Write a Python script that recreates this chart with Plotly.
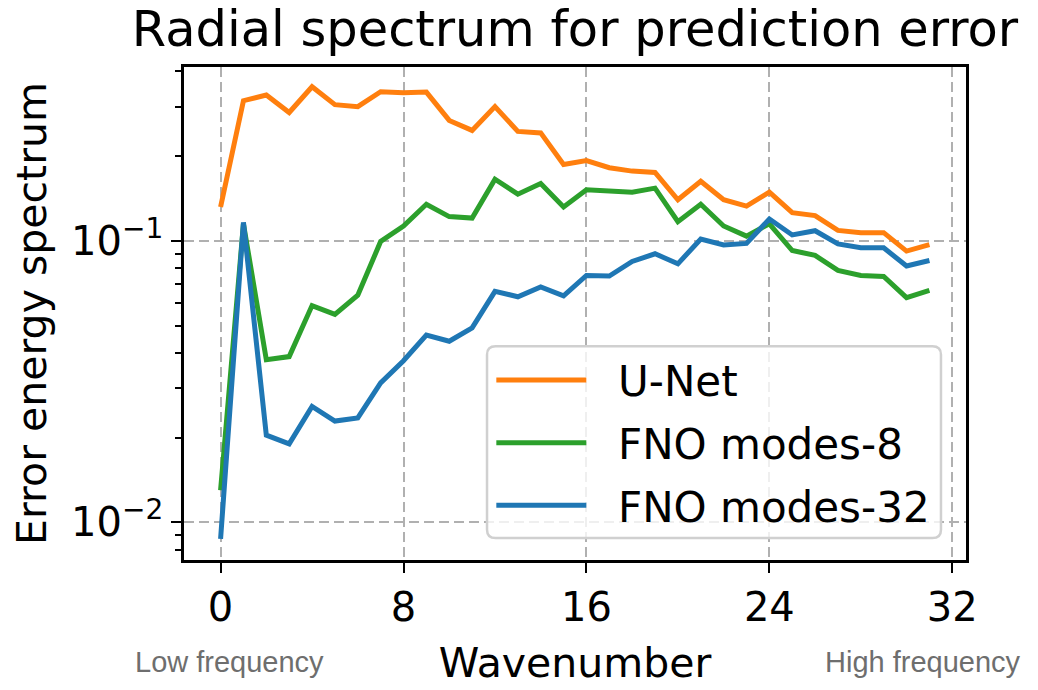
import plotly.graph_objects as go

# Data
wavenumber = list(range(32))

unet = [0.132, 0.315, 0.330, 0.286, 0.353, 0.305, 0.300, 0.339, 0.336, 0.338,
        0.268, 0.247, 0.300, 0.245, 0.242, 0.187, 0.193, 0.182, 0.177, 0.175,
        0.140, 0.163, 0.140, 0.133, 0.149, 0.126, 0.123, 0.109, 0.107, 0.107,
        0.092, 0.097]

fno_modes8 = [0.0130, 0.115, 0.0378, 0.0388, 0.0589, 0.0548, 0.0641, 0.0995, 0.113, 0.135,
              0.122, 0.1205, 0.1656, 0.1466, 0.160, 0.132, 0.152, 0.151, 0.149, 0.154,
              0.117, 0.135, 0.113, 0.104, 0.115, 0.0924, 0.0888, 0.0786, 0.0754, 0.0748,
              0.0629, 0.0667]

fno_modes32 = [0.00873, 0.1164, 0.0204, 0.0190, 0.0258, 0.0229, 0.0235, 0.0313, 0.0375, 0.0463,
               0.0440, 0.0491, 0.0662, 0.0633, 0.0686, 0.0638, 0.0754, 0.0750, 0.0845, 0.0900,
               0.0829, 0.1016, 0.0968, 0.0980, 0.1196, 0.1050, 0.1087, 0.0976, 0.0945, 0.0945,
               0.0814, 0.0852]

x_ticks = [0, 8, 16, 24, 32]
y_ticks = [0.01, 0.1]
y_ticktext = ["10<sup>−2</sup>", "10<sup>−1</sup>"]
y_minor = [0.008, 0.009] + [k / 100 for k in range(2, 10)] + [0.2, 0.3, 0.4]

series = [
    ("U-Net", unet, "#ff7f0e"),
    ("FNO modes-8", fno_modes8, "#2ca02c"),
    ("FNO modes-32", fno_modes32, "#1f77b4"),
]

fig = go.Figure()
for name, vals, color in series:
    fig.add_trace(go.Scatter(
        x=wavenumber, y=vals, mode="lines",
        name="\u00a0\u00a0" + name,  # extra gap between legend line and label
        legendgroup=name,
        line=dict(color=color, width=5),
    ))

# page has an 8px body margin, so the figure is a bit smaller than the window
fig.update_layout(
    width=1030, height=682,
    margin=dict(l=176, r=72, t=59, b=127),
    paper_bgcolor="white", plot_bgcolor="white",
    font=dict(family="DejaVu Sans", size=40, color="black"),
    title=dict(text="Radial spectrum for prediction error", x=0.5505, xanchor="center",
               y=0.97, yanchor="middle", font=dict(size=49.5)),
    legend=dict(
        x=0.393, y=0.4335, xanchor="left", yanchor="top",
        bgcolor="rgba(0,0,0,0)", borderwidth=0,
        font=dict(size=42), tracegroupgap=5, itemwidth=90,
    ),
    showlegend=True,
)

# legend frame with rounded corners, like matplotlib's
x0, x1, y0, y1 = 0.3875, 0.968, 0.0444, 0.4335
rx, ry = 0.011, 0.017
frame = (f"M{x0+rx},{y1} L{x1-rx},{y1} Q{x1},{y1} {x1},{y1-ry} "
         f"L{x1},{y0+ry} Q{x1},{y0} {x1-rx},{y0} L{x0+rx},{y0} "
         f"Q{x0},{y0} {x0},{y0+ry} L{x0},{y1-ry} Q{x0},{y1} {x0+rx},{y1} Z")
fig.add_shape(type="path", path=frame, xref="paper", yref="paper", layer="above",
              fillcolor="rgba(255,255,255,0.8)", line=dict(color="#d0d0d0", width=2.5))

fig.update_xaxes(
    range=[-1.6, 32.6], tickvals=x_ticks,
    showline=True, linecolor="black", linewidth=2.5, mirror=True,
    ticks="outside", ticklen=10, tickwidth=2, tickcolor="black",
    showgrid=True, gridcolor="#b0b0b0", griddash="10px,5px", gridwidth=2,
    zeroline=False,
    title=dict(text="Wavenumber", font=dict(size=41), standoff=20),
)

fig.update_yaxes(
    type="log", range=[-2.134, -0.382],
    tickvals=y_ticks, ticktext=y_ticktext,
    showline=True, linecolor="black", linewidth=2.5, mirror=True,
    ticks="outside", ticklen=10, tickwidth=2, tickcolor="black",
    showgrid=True, gridcolor="#b0b0b0", griddash="10px,5px", gridwidth=2,
    zeroline=False,
    minor=dict(tickvals=y_minor, ticks="outside", ticklen=6, tickwidth=1.5,
               tickcolor="black", showgrid=False),
    title=dict(text="Error energy spectrum", font=dict(size=41), standoff=14),
)

fig.add_annotation(text="Low frequency", xref="paper", yref="paper",
                   x=0.058, y=-0.2077, xanchor="center", yanchor="middle", showarrow=False,
                   font=dict(family="Liberation Sans", size=29, color="#6e6e6e"))
fig.add_annotation(text="High frequency", xref="paper", yref="paper",
                   x=0.945, y=-0.2077, xanchor="center", yanchor="middle", showarrow=False,
                   font=dict(family="Liberation Sans", size=29, color="#6e6e6e"))

fig.write_html("out.html")
